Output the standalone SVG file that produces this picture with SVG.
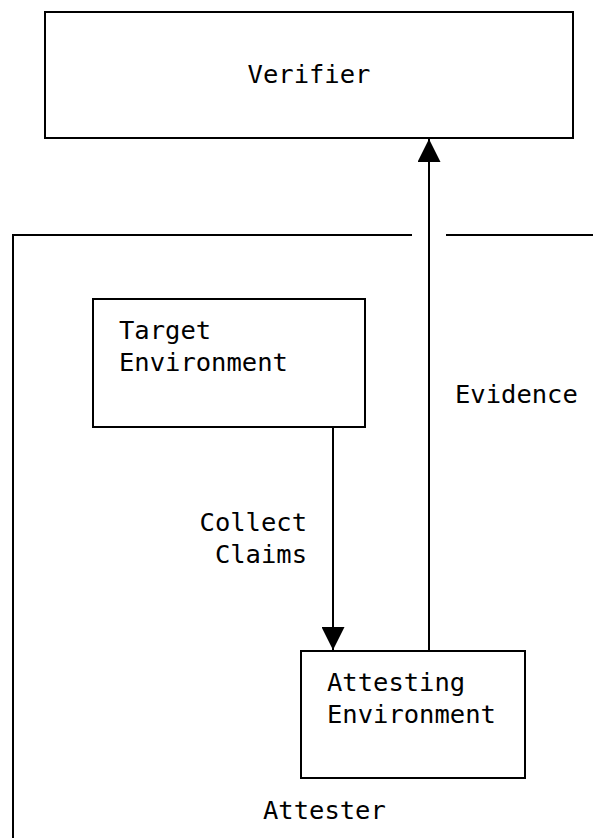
<svg xmlns="http://www.w3.org/2000/svg" width="593" height="838" viewBox="0 0 593 838">
<style>
.box{fill:#fff;stroke:#000;stroke-width:2}
.ln{fill:none;stroke:#000;stroke-width:2}
text{font-family:"DejaVu Sans Mono","Liberation Mono",monospace;font-size:25.5px;fill:#000}
</style>
<defs>
<marker id="ah" viewBox="0 0 23 23" refX="23" refY="11.5" markerWidth="23" markerHeight="23" markerUnits="userSpaceOnUse" orient="auto">
<path d="M0,0 L23,11.5 L0,23 Z" fill="#000"/>
</marker>
</defs>
<g id="attester">
<path class="ln" d="M412,235 H13 V838"/>
<path class="ln" d="M446,235 H593"/>
<text x="263" y="819">Attester</text>
</g>
<g id="verifier">
<rect class="box" x="45" y="12" width="528" height="126"/>
<text x="309" y="83" text-anchor="middle">Verifier</text>
</g>
<g id="target">
<rect class="box" x="93" y="299" width="272" height="128"/>
<text x="119" y="339">Target</text>
<text x="119" y="371">Environment</text>
</g>
<g id="attesting">
<rect class="box" x="301" y="651" width="224" height="127"/>
<text x="327" y="691">Attesting</text>
<text x="327" y="723">Environment</text>
</g>
<g id="connectors">
<path class="ln" d="M333,427 V650" marker-end="url(#ah)"/>
<path class="ln" d="M429,651 V139" marker-end="url(#ah)"/>
<text x="307" y="531" text-anchor="end">Collect</text>
<text x="307" y="563" text-anchor="end">Claims</text>
<text x="455" y="403">Evidence</text>
</g>
</svg>
